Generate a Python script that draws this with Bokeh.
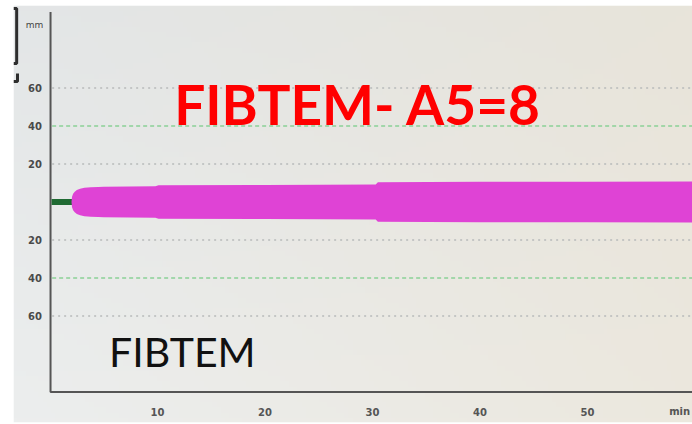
import numpy as np
from bokeh.plotting import figure
from bokeh.core.properties import value
from bokeh.embed import file_html
from bokeh.resources import INLINE

# FIBTEM clot-firmness trace: time (min) vs amplitude (mm), drawn symmetric about 0
time_min = [2.0, 2.05, 2.15, 2.3, 2.5, 2.8, 3.2, 3.8, 4.5, 5.0, 9.8, 10.1, 20.0, 30.3, 30.5, 40.0, 50.0, 60.0]
amp_mm = [0.0, 2.8, 4.3, 5.4, 6.3, 7.0, 7.5, 7.8, 7.95, 8.0, 8.3, 8.8, 9.0, 9.2, 10.4, 10.6, 10.7, 10.8]
clot_time = 2.0  # flat line before clotting starts

# axis ticks
x_ticks = [10, 20, 30, 40, 50]
x_tick_labels = ["10", "20", "30", "40", "50"]
y_ticks = [60, 40, 20, -20, -40, -60]
y_tick_labels = ["60", "40", "20", "20", "40", "60"]
dotted_levels = [60, 20, -20, -60]
dashed_levels = [40, -40]

title_text = "FIBTEM- A5=8"
panel_text = "FIBTEM"

X0, X1 = -3.395, 59.77
Y0, Y1 = -116.05, 103.42

p = figure(width=692, height=424, x_range=(X0, X1), y_range=(Y0, Y1),
           x_axis_location=None, y_axis_location=None,
           toolbar_location=None, output_backend="svg",
           min_border_left=13, min_border_top=5, min_border_bottom=2, min_border_right=0,
           border_fill_color="white", outline_line_color=None)
p.grid.visible = False

# soft screen background (slightly warmer towards the right)
nx, ny = 160, 80
fx = np.linspace(0, 1, nx)[None, :, None]
fy = np.linspace(0, 1, ny)[:, None, None]
bl = np.array([236, 238, 238.0]); br = np.array([236, 232, 222.0])
tl = np.array([227, 230, 231.0]); tr = np.array([232, 228, 218.0])
col = (1 - fy) * ((1 - fx) * bl + fx * br) + fy * ((1 - fx) * tl + fx * tr)
img = np.empty((ny, nx), dtype=np.uint32)
view = img.view(dtype=np.uint8).reshape((ny, nx, 4))
view[:, :, :3] = col.astype(np.uint8)
view[:, :, 3] = 255
p.image_rgba(image=[img], x=X0, y=Y0, dw=X1 - X0, dh=Y1 - Y0)

# grid lines
p.segment(x0=[0.2] * len(dotted_levels), y0=dotted_levels, x1=[X1] * len(dotted_levels),
          y1=dotted_levels, line_color="#b8baba", line_width=1.5, line_dash="2 4")
p.segment(x0=[0.2] * len(dashed_levels), y0=dashed_levels, x1=[X1] * len(dashed_levels),
          y1=dashed_levels, line_color="#8ad197", line_width=1.5, line_dash="4 3")

# axis frame lines
p.line(x=[0.05, 0.05, X1], y=[100, -100, -100], line_color="#555555", line_width=2)

# scale bracket at top left
p.line(x=[-3.395, -3.1, -3.1, -3.395], y=[101.8, 101.8, 72.9, 72.9], line_color="#2e2e2e", line_width=3)
p.line(x=[-3.395, -3.02, -3.02], y=[63.4, 63.4, 67.6], line_color="#2e2e2e", line_width=3)

# flat baseline before clot formation
p.line(x=[0.15, clot_time + 0.1], y=[0, 0], line_color="#1f6a33", line_width=6)

# amplitude ribbon
t = np.array(time_min)
a = np.array(amp_mm)
p.varea(x=t, y1=-a, y2=a, fill_color="#df43d5")

# tick labels
p.text(x=[-0.75] * len(y_ticks), y=y_ticks, text=y_tick_labels, text_align="right",
       text_baseline="middle", text_font=value("DejaVu Sans"), text_font_style="bold",
       text_font_size="10px", text_color="#4a4a4a")
p.text(x=x_ticks, y=[-110.3] * len(x_ticks), text=x_tick_labels, text_align="center",
       text_baseline="middle", text_font=value("DejaVu Sans"), text_font_style="bold",
       text_font_size="10px", text_color="#555555")
p.text(x=[-2.25], y=[92.9], text=["mm"], text_align="left", text_baseline="middle",
       text_font=value("DejaVu Sans"), text_font_size="9px", text_color="#444444")
p.text(x=[57.6], y=[-110.3], text=["min"], text_align="left", text_baseline="middle",
       text_font=value("DejaVu Sans"), text_font_style="bold", text_font_size="10px",
       text_color="#555555")

# headline and panel name
p.text(x=[11.55], y=[51.84], text=[title_text], text_align="left", text_baseline="alphabetic",
       text_font=value("Lato"), text_font_style="bold", text_font_size="55px", text_color="#ff0000")
p.text(x=[5.5], y=[-78.7], text=[panel_text], text_align="left", text_baseline="alphabetic",
       text_font=value("Lato"), text_font_size="41px", text_color="#111111")

open("out.html", "w").write(file_html(p, INLINE))
